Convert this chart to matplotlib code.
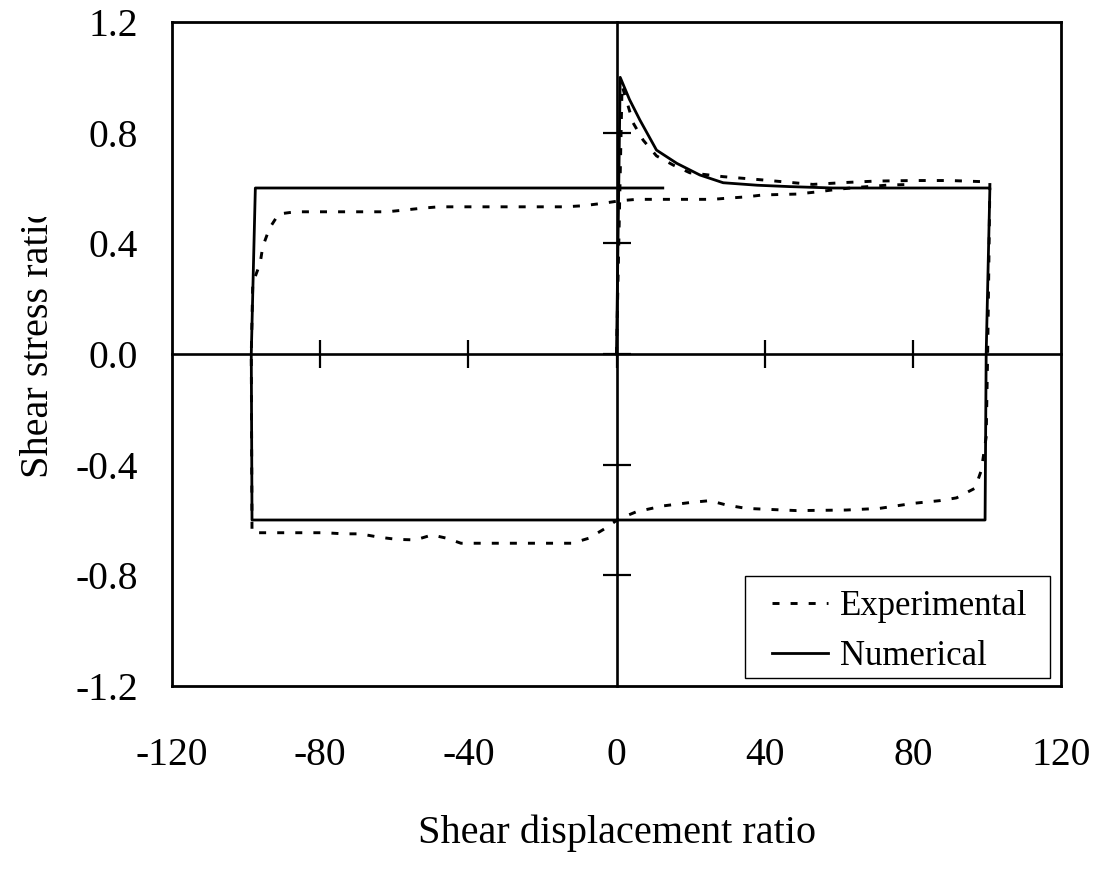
import matplotlib
matplotlib.use("Agg")
import matplotlib.pyplot as plt
from matplotlib.patches import Rectangle
from matplotlib.transforms import Bbox

plt.rcParams["font.family"] = ["Liberation Serif", "DejaVu Serif"]

# Experimental hysteresis loop
exp_x = [0, 1.5, 4.5, 7.2, 10.8, 15.3, 19.8, 28.8, 39.6, 48.7, 53, 62, 70, 80, 90, 100.8,
         100.5, 100.2, 99.8, 98.5, 96.8, 91.8, 87.3, 80, 71, 62, 48.6, 35, 29.7, 25.2,
         19.8, 12.6, 5.4, 0.5, -3, -7.5, -12, -42, -45.8, -49.8, -54.3, -59.3, -64.2,
         -69.2, -73.7, -78.7, -98.4,
         -98.6, -98.2, -96.2, -95.5, -93.7, -91.2, -86.7, -62, -57.5, -52.5, -48, -13.8,
         -8.9, -3.5, 1, 5.4, 26, 29.7, 35.1, 39.6, 48.6, 54.9, 59.4, 64.8, 73.8, 80]
exp_y = [0, 0.97, 0.835, 0.773, 0.716, 0.683, 0.655, 0.641, 0.629, 0.618, 0.613, 0.62, 0.625,
         0.627, 0.627, 0.622,
         0.3, 0.0, -0.3, -0.42, -0.485, -0.52, -0.53, -0.54, -0.558, -0.564, -0.566, -0.558,
         -0.546, -0.53, -0.537, -0.549, -0.57, -0.597, -0.63, -0.666, -0.684, -0.684,
         -0.666, -0.654, -0.672, -0.67, -0.662, -0.65, -0.65, -0.646, -0.646,
         0.0, 0.256, 0.328, 0.388, 0.454, 0.506, 0.514, 0.514, 0.52, 0.527, 0.532, 0.532,
         0.536, 0.545, 0.554, 0.559, 0.559, 0.563, 0.568, 0.575, 0.578, 0.587, 0.595,
         0.602, 0.611, 0.613]

# Numerical model
num_x = [0, 1, 3.5, 6.3, 10.8, 16.3, 22.5, 28.8, 38, 46.8, 58.5, 100.8, 99.8, 99.5,
         -98.4, -98.6, -97.5, 12.5]
num_y = [0, 1.0, 0.92, 0.846, 0.737, 0.689, 0.647, 0.619, 0.61, 0.605, 0.6, 0.6, 0.0, -0.6,
         -0.6, 0.0, 0.6, 0.6]

x_ticks = [-120, -80, -40, 0, 40, 80, 120]
y_ticks = [-1.2, -0.8, -0.4, 0.0, 0.4, 0.8, 1.2]
y_tick_labels = ["-1.2", "-0.8", "-0.4", "0.0", "0.4", "0.8", "1.2"]
cross_x = [-80, -40, 0, 40, 80]
cross_y = [-0.8, -0.4, 0, 0.4, 0.8]

W, H = 1102, 869
fig = plt.figure(figsize=(W / 100, H / 100), dpi=100)
rect = [172 / W, 1 - 686 / H, 889 / W, 664 / H]

# outer frame + tick labels
ax = fig.add_axes(rect)
ax.set_xlim(-120, 120)
ax.set_ylim(-1.2, 1.2)
ax.set_xticks(x_ticks)
ax.set_xticklabels([str(v) for v in x_ticks])
ax.set_yticks(y_ticks)
ax.set_yticklabels(y_tick_labels)
ax.tick_params(length=0, labelsize=28.5)
ax.tick_params(axis="x", pad=36.5)
ax.tick_params(axis="y", pad=24.5)
for s in ax.spines.values():
    s.set_linewidth(2)

# centred axis lines with cross ticks (own axes so the outer tick labels stay)
ax2 = fig.add_axes(rect)
ax2.set_xlim(-120, 120)
ax2.set_ylim(-1.2, 1.2)
ax2.patch.set_visible(False)
ax2.spines["left"].set_position(("data", 0))
ax2.spines["bottom"].set_position(("data", 0))
ax2.spines["top"].set_visible(False)
ax2.spines["right"].set_visible(False)
ax2.spines["left"].set_linewidth(1.9)
ax2.spines["bottom"].set_linewidth(1.9)
ax2.set_xticks(cross_x)
ax2.set_yticks(cross_y)
ax2.tick_params(direction="inout", length=20, width=1.6, labelbottom=False, labelleft=False)

ax2.plot(exp_x, exp_y, color="black", lw=2.1, linestyle=(0, (2.4, 3.8)), label="Experimental")
ax2.plot(num_x, num_y, color="black", lw=2.0, label="Numerical")

# legend frame drawn separately (wide side padding like the original)
ax2.add_patch(Rectangle((0.6445, 0.01205), 0.9876 - 0.6445, 0.1657 - 0.01205,
                        transform=ax2.transAxes, facecolor="white", edgecolor="black",
                        lw=1.0, zorder=4))
leg = ax2.legend(loc="lower left", bbox_to_anchor=(0.6749, 0.0196), borderaxespad=0,
                 fontsize=25, frameon=False, handlelength=1.61, handletextpad=0.35,
                 labelspacing=0.49, borderpad=0)
leg.set_zorder(5)

fig.text(617 / W, 1 - 833 / H, "Shear displacement ratio", fontsize=29, ha="center", va="center")
ylab = fig.text(39 / W, 1 - 341 / H, "Shear stress ratio", fontsize=29, rotation=90,
                ha="center", va="center")
ylab.set_clip_box(Bbox.from_extents(0, 0, W, H - 217))
ylab.set_clip_on(True)

fig.savefig("out.png", dpi=100)
